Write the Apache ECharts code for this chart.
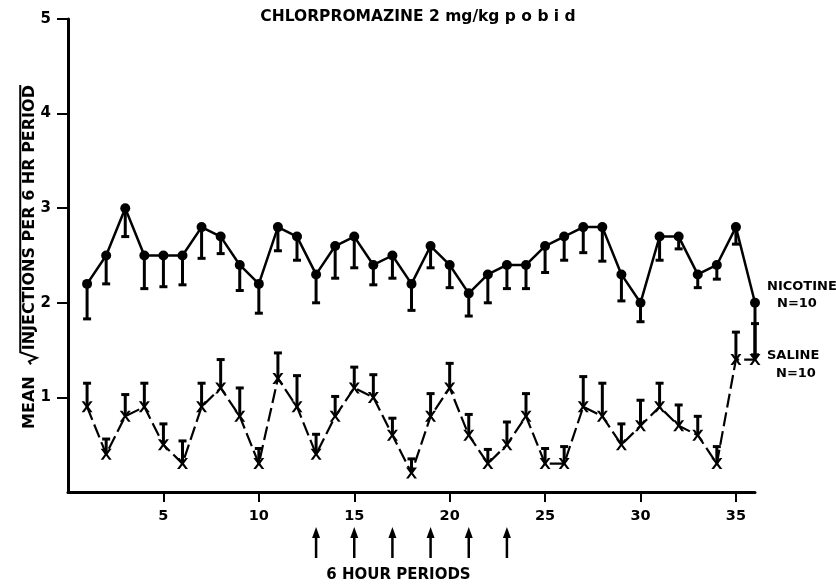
<!DOCTYPE html>
<html>
<head>
<meta charset="utf-8">
<script src="https://cdn.jsdelivr.net/npm/echarts@6/dist/echarts.min.js"></script>
<style>
  html, body { margin: 0; padding: 0; background: #fff; }
  #chart { width: 836px; height: 588px; }
</style>
</head>
<body>
<div id="chart"></div>
<script>
// Six-hour periods 1..36
const periods = [1,2,3,4,5,6,7,8,9,10,11,12,13,14,15,16,17,18,19,20,21,22,23,24,25,26,27,28,29,30,31,32,33,34,35,36];

// Nicotine group: mean and lower end of the error bar
const nicotineMean = [2.2,2.5,3.0,2.5,2.5,2.5,2.8,2.7,2.4,2.2,2.8,2.7,2.3,2.6,2.7,2.4,2.5,2.2,2.6,2.4,2.1,2.3,2.4,2.4,2.6,2.7,2.8,2.8,2.3,2.0,2.7,2.7,2.3,2.4,2.8,2.0];
const nicotineLow  = [1.83,2.2,2.7,2.15,2.17,2.19,2.47,2.52,2.13,1.89,2.55,2.45,2.0,2.26,2.37,2.19,2.26,1.92,2.37,2.16,1.86,2.0,2.15,2.15,2.32,2.45,2.53,2.44,2.02,1.8,2.45,2.57,2.16,2.25,2.62,1.45];

// Saline group: mean and upper end of the error bar
const salineMean = [0.9,0.4,0.8,0.9,0.5,0.3,0.9,1.1,0.8,0.3,1.2,0.9,0.4,0.8,1.1,1.0,0.6,0.2,0.8,1.1,0.6,0.3,0.5,0.8,0.3,0.3,0.9,0.8,0.5,0.7,0.9,0.7,0.6,0.3,1.4,1.4];
const salineHigh = [1.15,0.56,1.03,1.15,0.72,0.54,1.15,1.4,1.1,0.46,1.47,1.23,0.61,1.01,1.32,1.24,0.78,0.35,1.04,1.36,0.82,0.45,0.74,1.04,0.46,0.48,1.22,1.15,0.72,0.97,1.15,0.92,0.8,0.48,1.69,1.78];

// Drug administration times (arrows under the axis)
const dosePeriods = [13,15,17,19,21,23];

const xTicks = [5,10,15,20,25,30,35];
const yTicks = [1,2,3,4,5];

const FONT = '"DejaVu Sans", "Liberation Sans", sans-serif';
const INK = '#000';

// y-axis title pieces: "MEAN √(INJECTIONS PER 6 HR PERIOD)"
const yTitleLead = 'MEAN';
const yTitleRadicand = 'INJECTIONS PER 6 HR PERIOD';
const Y_TITLE_SIZE = 16;

function measure(text, size) {
  const ctx = document.createElement('canvas').getContext('2d');
  ctx.font = 'bold ' + size + 'px ' + FONT;
  return ctx.measureText(text).width;
}

// Builds the rotated y-axis title with a drawn radical sign and vinculum
function yTitleGraphic(cx, cy) {
  const s = Y_TITLE_SIZE;
  const wLead = measure(yTitleLead, s);
  const wRad = measure(yTitleRadicand, s);
  const gap = 12, rootW = 12;
  const total = wLead + gap + rootW + 2 + wRad;
  const x0 = -total / 2;
  const xRoot = x0 + wLead + gap;
  const xRad = xRoot + rootW + 2;
  const capTop = -s * 0.36 - 4;
  const style = { font: 'bold ' + s + 'px ' + FONT, fill: INK, textVerticalAlign: 'middle' };
  return {
    type: 'group',
    x: cx, y: cy,
    rotation: Math.PI / 2,
    children: [
      { type: 'text', style: Object.assign({ text: yTitleLead, x: x0, y: 0, textAlign: 'left' }, style) },
      { type: 'text', style: Object.assign({ text: yTitleRadicand, x: xRad, y: 0, textAlign: 'left' }, style) },
      { type: 'polyline',
        shape: { points: [[xRoot, 1], [xRoot + 3, -1], [xRoot + 6.5, s * 0.42], [xRoot + rootW, capTop], [xRad + wRad, capTop]] },
        style: { stroke: INK, lineWidth: 2, fill: null } }
    ]
  };
}

function errorBarRenderer() {
  return function (params, api) {
    const x = api.value(0);
    const a = api.coord([x, api.value(1)]);
    const b = api.coord([x, api.value(2)]);
    const w = 4;
    return {
      type: 'group',
      children: [
        { type: 'line', shape: { x1: a[0], y1: a[1], x2: b[0], y2: b[1] },
          style: { stroke: INK, lineWidth: 3 } },
        { type: 'line', shape: { x1: b[0] - w, y1: b[1], x2: b[0] + w, y2: b[1] },
          style: { stroke: INK, lineWidth: 3 } }
      ]
    };
  };
}

const chart = echarts.init(document.getElementById('chart'), null, { renderer: 'canvas' });

const xMark = 'path://M0,0 L2.4,0 L5,3.6 L7.6,0 L10,0 L6.3,5 L10,10 L7.6,10 L5,6.4 L2.4,10 L0,10 L3.7,5 Z';

chart.setOption({
  backgroundColor: '#fff',
  animation: false,
  title: {
    text: 'CHLORPROMAZINE 2 mg/kg p o b i d',
    left: 'center',
    top: 4,
    textStyle: { fontFamily: FONT, fontSize: 15.5, fontWeight: 'bold', color: INK }
  },
  graphic: [yTitleGraphic(30, 257)],
  grid: { left: 68, right: 81, top: 19, bottom: 96, containLabel: false },
  xAxis: {
    type: 'value',
    min: 0,
    max: 36,
    interval: 5,
    name: '6 HOUR PERIODS',
    nameLocation: 'middle',
    nameGap: 76,
    nameTextStyle: { fontFamily: FONT, fontSize: 15, fontWeight: 'bold', color: INK, padding: [0, 26, 0, 0] },
    axisLine: { show: true, lineStyle: { color: INK, width: 3 } },
    axisTick: { show: true, inside: false, length: 10, customValues: xTicks, lineStyle: { color: INK, width: 2 } },
    axisLabel: { customValues: xTicks, margin: 17, fontFamily: FONT, fontSize: 14.5, fontWeight: 'bold', color: INK },
    splitLine: { show: false }
  },
  yAxis: {
    type: 'value',
    min: 0,
    max: 5,
    interval: 1,
    axisLine: { show: true, lineStyle: { color: INK, width: 3 } },
    axisTick: { show: true, length: 11, customValues: yTicks, lineStyle: { color: INK, width: 2 } },
    axisLabel: { customValues: yTicks, margin: 17, fontFamily: FONT, fontSize: 15, fontWeight: 'bold', color: INK },
    splitLine: { show: false }
  },
  series: [
    {
      name: 'Nicotine SE',
      type: 'custom',
      renderItem: errorBarRenderer(),
      data: periods.map((p, i) => [p, nicotineMean[i], nicotineLow[i]]),
      z: 2
    },
    {
      name: 'Saline SE',
      type: 'custom',
      renderItem: errorBarRenderer(),
      data: periods.map((p, i) => [p, salineMean[i], salineHigh[i]]),
      z: 2
    },
    {
      name: 'Nicotine',
      type: 'line',
      data: periods.map((p, i) => [p, nicotineMean[i]]),
      symbol: 'circle',
      symbolSize: 10,
      itemStyle: { color: INK },
      lineStyle: { color: INK, width: 2.5 },
      endLabel: {
        show: true,
        formatter: '{a|NICOTINE}\n{b|N=10}',
        offset: [4, -8],
        rich: {
          a: { fontFamily: FONT, fontSize: 13, fontWeight: 'bold', color: INK, lineHeight: 17 },
          b: { fontFamily: FONT, fontSize: 13, fontWeight: 'bold', color: INK, lineHeight: 17, padding: [0, 0, 0, 10] }
        }
      },
      z: 3
    },
    {
      name: 'Saline',
      type: 'line',
      data: periods.map((p, i) => [p, salineMean[i]]),
      symbol: xMark,
      symbolSize: 11,
      itemStyle: { color: INK },
      lineStyle: { color: INK, width: 2.2, type: [14, 5] },
      endLabel: {
        show: true,
        formatter: '{a|SALINE}\n{b|N=10}',
        offset: [4, 5],
        rich: {
          a: { fontFamily: FONT, fontSize: 13, fontWeight: 'bold', color: INK, lineHeight: 18 },
          b: { fontFamily: FONT, fontSize: 13, fontWeight: 'bold', color: INK, lineHeight: 18, padding: [0, 0, 0, 9] }
        }
      },
      z: 3
    },
    {
      name: 'Doses',
      type: 'custom',
      clip: false,
      silent: true,
      renderItem: function (params, api) {
        const p = api.coord([api.value(0), 0]);
        const tip = p[1] + 35;
        return {
          type: 'group',
          children: [
            { type: 'line', shape: { x1: p[0], y1: tip + 6, x2: p[0], y2: p[1] + 66 },
              style: { stroke: INK, lineWidth: 2.5 } },
            { type: 'polygon', shape: { points: [[p[0], tip], [p[0] - 4, tip + 11], [p[0] + 4, tip + 11]] },
              style: { fill: INK } }
          ]
        };
      },
      data: dosePeriods.map(d => [d, 0])
    }
  ]
});
</script>
</body>
</html>
